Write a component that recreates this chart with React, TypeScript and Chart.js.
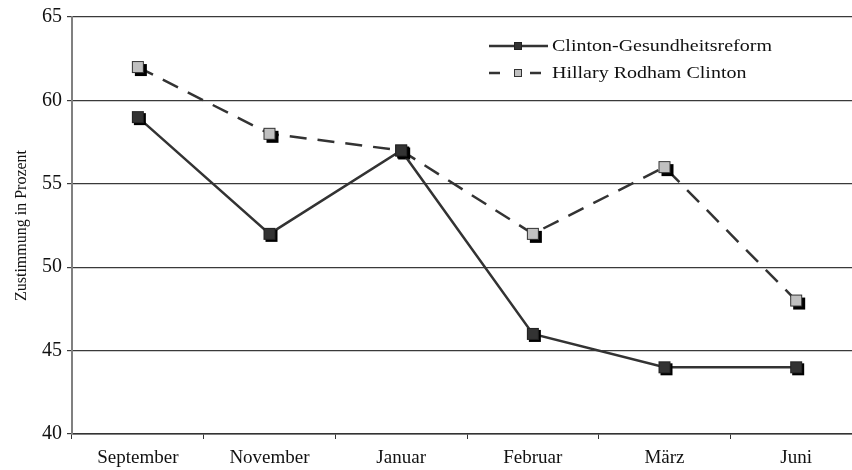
import React, { useEffect, useRef } from "react";
import { Chart, registerables } from "chart.js";

Chart.register(...registerables);

const categories = ["September", "November", "Januar", "Februar", "März", "Juni"];
const reformValues = [59, 52, 57, 46, 44, 44];
const hillaryValues = [62, 58, 57, 52, 56, 48];
const seriesNames = ["Clinton-Gesundheitsreform", "Hillary Rodham Clinton"];
const yTicks = [40, 45, 50, 55, 60, 65];

function makeMarker(fill: string, stroke: string, size: number, shadow: number) {
  const pad = shadow + 1;
  const c = document.createElement("canvas");
  const dim = size + pad * 2;
  c.width = dim;
  c.height = dim;
  const ctx = c.getContext("2d")!;
  ctx.fillStyle = "#000";
  ctx.fillRect(pad + shadow, pad + shadow, size, size);
  ctx.fillStyle = fill;
  ctx.fillRect(pad, pad, size, size);
  ctx.strokeStyle = stroke;
  ctx.lineWidth = 1;
  ctx.strokeRect(pad + 0.5, pad + 0.5, size - 1, size - 1);
  return c;
}

const legendPlugin = {
  id: "customLegend",
  afterDraw(chart: any) {
    const ctx = chart.ctx as CanvasRenderingContext2D;
    const rows = [
      { y: 46, dashed: false, fill: "#333333", stroke: "#222222", name: seriesNames[0] },
      { y: 73, dashed: true, fill: "#c0c0c0", stroke: "#333333", name: seriesNames[1] },
    ];
    ctx.save();
    rows.forEach((r) => {
      ctx.strokeStyle = "#333333";
      ctx.lineWidth = 2.5;
      ctx.beginPath();
      if (r.dashed) {
        ctx.moveTo(489, r.y);
        ctx.lineTo(500, r.y);
        ctx.moveTo(530, r.y);
        ctx.lineTo(541, r.y);
      } else {
        ctx.moveTo(489, r.y);
        ctx.lineTo(548, r.y);
      }
      ctx.stroke();
      ctx.fillStyle = r.fill;
      ctx.fillRect(514, r.y - 4, 8, 8);
      ctx.strokeStyle = r.stroke;
      ctx.lineWidth = 1;
      ctx.strokeRect(514.5, r.y - 3.5, 7, 7);
      ctx.save();
      ctx.translate(552, r.y);
      ctx.scale(1.25, 1.05);
      ctx.fillStyle = "#111111";
      ctx.font = "16px 'Liberation Serif', 'Times New Roman', serif";
      ctx.textBaseline = "middle";
      ctx.textAlign = "left";
      ctx.fillText(r.name, 0, 1);
      ctx.restore();
    });
    ctx.restore();
  },
};

export default function App() {
  const ref = useRef<HTMLCanvasElement>(null);
  useEffect(() => {
    if (!ref.current) return;
    const darkMarker = makeMarker("#333333", "#222222", 12, 2);
    const lightMarker = makeMarker("#c0c0c0", "#333333", 12, 3);
    const chart = new Chart(ref.current, {
      type: "line",
      data: {
        labels: categories,
        datasets: [
          {
            label: seriesNames[0],
            data: reformValues,
            borderColor: "#333333",
            borderWidth: 2.5,
            pointStyle: darkMarker as any,
            pointRadius: 8,
            tension: 0,
          },
          {
            label: seriesNames[1],
            data: hillaryValues,
            borderColor: "#333333",
            borderWidth: 2.5,
            borderDash: [17, 11],
            pointStyle: lightMarker as any,
            pointRadius: 8,
            tension: 0,
          },
        ],
      },
      options: {
        responsive: false,
        animation: false,
        devicePixelRatio: 1,
        layout: { padding: { left: 0, right: 18, top: 15, bottom: 0 } },
        plugins: { legend: { display: false }, tooltip: { enabled: false } },
        scales: {
          x: {
            offset: true,
            grid: { offset: true, drawOnChartArea: false, drawTicks: true, tickLength: 5, color: "#333333" },
            border: { color: "#333333", width: 1.5 },
            ticks: {
              color: "#111111",
              padding: 8,
              maxRotation: 0,
              font: { family: "'Liberation Serif', 'Times New Roman', serif", size: 19 },
            },
            afterFit: (s: any) => {
              s.height = 36;
            },
          },
          y: {
            min: 40,
            max: 65,
            afterBuildTicks: (s: any) => {
              s.ticks = yTicks.map((v) => ({ value: v }));
            },
            grid: { color: "#3a3a3a", lineWidth: 1.2, tickLength: 5, drawTicks: true },
            border: { color: "#808080", width: 2 },
            ticks: {
              color: "#111111",
              padding: 5,
              font: { family: "'Liberation Serif', 'Times New Roman', serif", size: 20 },
            },
            title: {
              display: true,
              text: "Zustimmung in Prozent",
              color: "#111111",
              padding: { top: 12, bottom: 4 },
              font: { family: "'Liberation Serif', 'Times New Roman', serif", size: 16 },
            },
            afterFit: (s: any) => {
              s.width = 72;
            },
          },
        },
      },
      plugins: [legendPlugin],
    });
    return () => chart.destroy();
  }, []);
  return (
    <div style={{ position: "absolute", left: 0, top: 0, width: 852, height: 470, overflow: "hidden", background: "#fff" }}>
      <canvas ref={ref} width={880} height={470} style={{ width: 880, height: 470, display: "block" }} />
    </div>
  );
}
